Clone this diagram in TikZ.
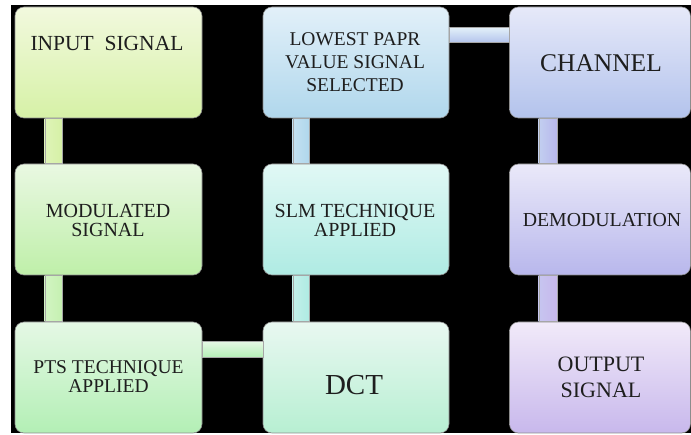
\documentclass[tikz,border=0pt]{standalone}
\usepackage{fontspec}
\setmainfont{Liberation Serif}
\newfontfamily\serifx{Liberation Serif}
\usetikzlibrary{calc}
\definecolor{inT}{HTML}{F2F9DE}\definecolor{inB}{HTML}{D6F1A6}
\definecolor{modT}{HTML}{E9F8E2}\definecolor{modB}{HTML}{BFEFA9}
\definecolor{ptsT}{HTML}{E5F8E5}\definecolor{ptsB}{HTML}{B3EFB5}
\definecolor{dctT}{HTML}{E9F8F1}\definecolor{dctB}{HTML}{B7EFD2}
\definecolor{slmT}{HTML}{E1F8F5}\definecolor{slmB}{HTML}{AFEBE3}
\definecolor{lowT}{HTML}{E2F0F9}\definecolor{lowB}{HTML}{B0D7EC}
\definecolor{chT}{HTML}{E6E9F9}\definecolor{chB}{HTML}{B3C3EC}
\definecolor{demT}{HTML}{EAE9F9}\definecolor{demB}{HTML}{B8B7EC}
\definecolor{outT}{HTML}{F1EAF9}\definecolor{outB}{HTML}{C8B8EC}
\definecolor{txtc}{HTML}{1E1E1E}
\begin{document}
\begin{tikzpicture}[x=1pt,y=-1pt,
  box/.style={rounded corners=9pt, draw=black!45, line width=0.6pt,
    minimum width=187pt, minimum height=111pt, inner sep=0pt},
  lbl/.style={inner sep=0pt, align=center, text=txtc},
  conn/.style={draw=black!35, line width=0.4pt}]
\useasboundingbox (0,0) rectangle (691,435);
\fill[white] (0,0) rectangle (691,435);
\fill[black] (11,5) rectangle (691,433);
% boxes
\node[box, top color=inT, bottom color=inB] (in) at (108.5,62.5) {};
\node[box, top color=modT, bottom color=modB] (mod) at (108.5,219.5) {};
\node[box, top color=ptsT, bottom color=ptsB] (pts) at (108.5,377.5) {};
\node[box, minimum width=186pt, top color=lowT, bottom color=lowB] (low) at (356,62.5) {};
\node[box, minimum width=186pt, top color=slmT, bottom color=slmB] (slm) at (356,219.5) {};
\node[box, minimum width=186pt, top color=dctT, bottom color=dctB] (dct) at (356,377.5) {};
\node[box, minimum width=181pt, top color=chT, bottom color=chB] (ch) at (600,62.5) {};
\node[box, minimum width=181pt, top color=demT, bottom color=demB] (dem) at (600,219.5) {};
\node[box, minimum width=181pt, top color=outT, bottom color=outB] (out) at (600,377.5) {};
% connectors
\path[conn, left color=inB!80!white, right color=inB] ($(in.south west)+(30,0)$) rectangle ($(mod.north west)+(47,0)$);
\path[conn, left color=modB!70!white, right color=modB!90!white] ($(mod.south west)+(30,0)$) rectangle ($(pts.north west)+(47,0)$);
\path[conn, top color=ptsT, bottom color=ptsB] ($(pts.north east)+(0,20)$) rectangle ($(dct.north west)+(0,36)$);
\path[conn, left color=slmB!75!white, right color=slmB] ($(slm.south west)+(30,0)$) rectangle ($(dct.north west)+(46,0)$);
\path[conn, left color=lowB!75!white, right color=lowB] ($(low.south west)+(30,0)$) rectangle ($(slm.north west)+(46,0)$);
\path[conn, top color=lowT, bottom color=chB] ($(low.north east)+(0,21)$) rectangle ($(ch.north west)+(0,36)$);
\path[conn, left color=chB!80!white, right color=demB] ($(ch.south west)+(29.5,0)$) rectangle ($(dem.north west)+(47.5,0)$);
\path[conn, left color=demB!80!white, right color=outB] ($(dem.south west)+(29.5,0)$) rectangle ($(out.north west)+(47.5,0)$);
% texts
\node[lbl, font=\serifx\fontsize{21.5}{24}\selectfont] (tin) at (107,43) {INPUT\ \ SIGNAL};
\node[lbl, font=\serifx\fontsize{20}{19}\selectfont] (tmod) at (108,220) {MODULATED\\SIGNAL};
\node[lbl, font=\serifx\fontsize{19.5}{19}\selectfont] (tpts) at (108.5,377) {PTS TECHNIQUE\\APPLIED};
\node[lbl, font=\serifx\fontsize{19.5}{23}\selectfont] (tlow) at (355,62.5) {LOWEST PAPR\\VALUE SIGNAL\\SELECTED};
\node[lbl, font=\serifx\fontsize{20}{19.5}\selectfont] (tslm) at (355,220.5) {SLM TECHNIQUE\\APPLIED};
\node[lbl, font=\serifx\fontsize{29}{30}\selectfont] (tdct) at (354,385.5) {DCT};
\node[lbl, font=\serifx\fontsize{25.5}{28}\selectfont] (tch) at (601,63.5) {CHANNEL};
\node[lbl, font=\serifx\fontsize{19.8}{22}\selectfont] (tdem) at (602,220) {DEMODULATION};
\node[lbl, font=\serifx\fontsize{22}{25.7}\selectfont] (tout) at (601,377) {OUTPUT\\SIGNAL};
\end{tikzpicture}
\end{document}
